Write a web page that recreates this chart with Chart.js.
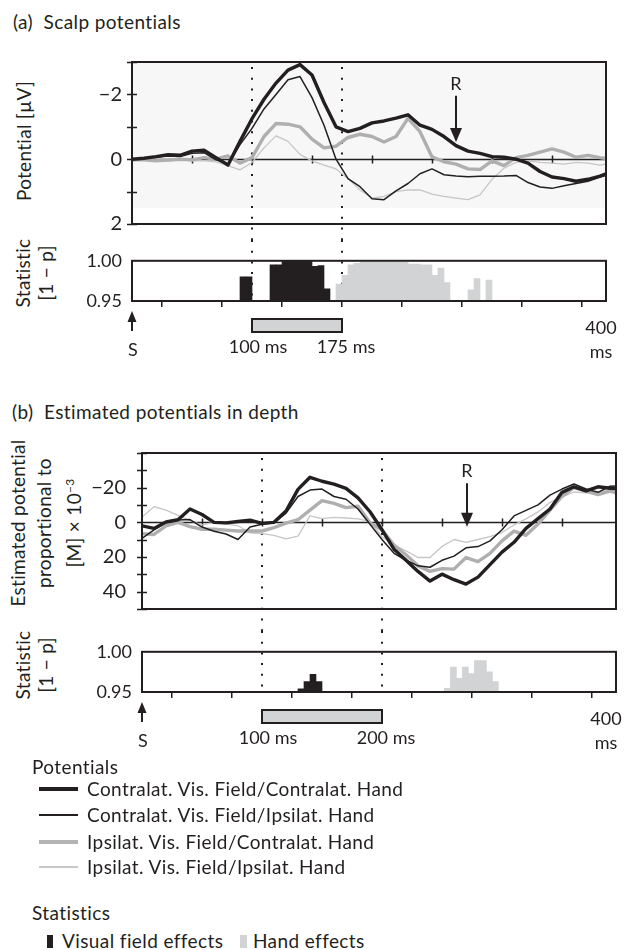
<!DOCTYPE html>
<html>
<head>
<meta charset="utf-8">
<script src="https://cdn.jsdelivr.net/npm/chart.js@4.4.0/dist/chart.umd.min.js"></script>
<style>
  body { margin: 0; width: 626px; height: 950px; position: relative; overflow: hidden;
         background: #fff; font-family: Lato, "Open Sans", sans-serif; color: #231f20; }
  canvas { position: absolute; left: 0; }
  .txt { position: absolute; font-size: 19px; line-height: 19px; letter-spacing: 0.4px; white-space: nowrap; }
  .rot { position: absolute; font-size: 19px; white-space: nowrap; text-align: center; letter-spacing: 0.3px;
         transform: translate(-50%, -50%) rotate(-90deg); }
  .sw { position: absolute; width: 39px; }
  sup { font-size: 12px; }
</style>
</head>
<body>

<div class="txt" style="left:13px;top:12px">(a)&nbsp; Scalp potentials</div>
<div class="rot" style="left:23px;top:141px">Potential [µV]</div>
<div class="rot" style="left:34px;top:273px;line-height:23px">Statistic<br>[1 − p]</div>

<div class="txt" style="left:12px;top:402px">(b)&nbsp; Estimated potentials in depth</div>
<div class="rot" style="left:46px;top:523px;line-height:26px">Estimated potential<br>proportional to<br>[M] × 10<sup>−3</sup></div>
<div class="rot" style="left:34px;top:665px;line-height:23px">Statistic<br>[1 − p]</div>

<canvas id="mainA" width="626" height="206" style="top:40px"></canvas>
<canvas id="statA" width="626" height="130" style="top:240px"></canvas>
<canvas id="mainB" width="626" height="212" style="top:425px"></canvas>
<canvas id="statB" width="626" height="130" style="top:631px"></canvas>

<div class="txt" style="left:32px;top:757px">Potentials</div>
<div class="sw" style="left:39px;top:787px;border-top:4px solid #231f20"></div>
<div class="txt" style="left:87px;top:779px">Contralat. Vis. Field/Contralat. Hand</div>
<div class="sw" style="left:39px;top:814px;border-top:2px solid #231f20"></div>
<div class="txt" style="left:87px;top:805px">Contralat. Vis. Field/Ipsilat. Hand</div>
<div class="sw" style="left:39px;top:840px;border-top:4px solid #b3b3b3"></div>
<div class="txt" style="left:87px;top:832px">Ipsilat. Vis. Field/Contralat. Hand</div>
<div class="sw" style="left:39px;top:866px;border-top:2px solid #c8c8c8"></div>
<div class="txt" style="left:87px;top:857px">Ipsilat. Vis. Field/Ipsilat. Hand</div>

<div class="txt" style="left:32px;top:903px">Statistics</div>
<div style="position:absolute;left:47px;top:935px;width:6px;height:13px;background:#231f20"></div>
<div class="txt" style="left:62px;top:931px">Visual field effects</div>
<div style="position:absolute;left:240px;top:935px;width:7px;height:13px;background:#d1d3d4"></div>
<div class="txt" style="left:253px;top:931px">Hand effects</div>

<script>
// time axis (ms after stimulus)
const timeMs = [0, 10, 20, 30, 40, 50, 60, 70, 80, 90, 100, 110, 120, 130, 140, 150, 160, 170, 180, 190,
  200, 210, 220, 230, 240, 250, 260, 270, 280, 290, 300, 310, 320, 330, 340, 350, 360, 370, 380, 390, 395]
const xTicks = [50, 100, 150, 200, 250, 300, 350]

// (a) scalp potentials, µV (negative up)
const scalpCC = [0, -0.03, -0.08, -0.14, -0.12, -0.25, -0.28, -0.05, 0.18, -0.55, -1.25, -1.85, -2.35, -2.75, -2.92, -2.6, -1.75, -1.0, -0.85, -0.95,
  -1.12, -1.18, -1.27, -1.37, -1.05, -0.92, -0.7, -0.42, -0.25, -0.18, -0.08, -0.06, 0.0, 0.12, 0.38, 0.55, 0.6, 0.68, 0.62, 0.52, 0.45]
const scalpCI = [0, -0.03, -0.06, -0.1, -0.08, -0.18, -0.2, 0.02, 0.15, -0.45, -0.95, -1.55, -2.0, -2.45, -2.55, -1.9, -1.05, 0.0, 0.6, 0.85,
  1.22, 1.25, 0.98, 0.75, 0.45, 0.3, 0.48, 0.52, 0.54, 0.53, 0.53, 0.52, 0.5, 0.72, 0.86, 0.9, 0.82, 0.75, 0.68, 0.55, 0.5]
const scalpIC = [0.02, 0.02, 0.05, 0.03, 0.0, 0.02, -0.05, 0.0, -0.1, 0.12, -0.05, -0.7, -1.1, -1.08, -1.0, -0.62, -0.35, -0.4, -0.67, -0.77,
  -0.7, -0.53, -0.7, -1.26, -0.85, -0.07, 0.08, 0.15, 0.3, 0.32, 0.05, 0.2, -0.05, -0.12, -0.22, -0.32, -0.22, -0.06, -0.12, -0.05, -0.02]
const scalpII = [0.02, 0.03, 0.03, 0.05, 0.02, 0.05, 0.05, 0.08, 0.2, 0.33, 0.1, -0.35, -0.72, -0.55, -0.15, 0.05, 0.18, 0.3, 0.6, 0.95,
  1.2, 1.15, 1.0, 0.95, 0.95, 1.08, 1.15, 1.2, 1.25, 1.1, 0.62, 0.28, 0.1, 0.05, 0.1, 0.12, 0.15, 0.1, 0.12, 0.18, 0.15]

// (b) estimated potentials in depth, x 10^-3 (negative up)
const depthCC = [2, 3.5, -0.2, -1.5, -7.7, -4.5, 0, 0.3, -0.5, -1.3, 0.6, 0, -6.5, -19, -26, -23.7, -22, -19.6, -14.1, -6.1,
  4.3, 15.5, 21.9, 28.3, 33.9, 29.9, 33.1, 35.6, 31.6, 24.4, 17.2, 11.5, 3.5, -2.1, -7.7, -17.3, -20.5, -18.1, -20.5, -19.7, -19.5]
const depthCI = [9.3, 4.3, 0, -1.3, -1.6, 2.7, 5.1, 6.7, 9.9, 2.7, 1.1, 0.3, -5.3, -14.9, -18.6, -19.2, -14.9, -13.3, -7.7, 1.1,
  9.9, 17.9, 21.9, 25.1, 25.9, 21.9, 19.5, 14.7, 14, 10.7, 4.3, -3.7, -6.9, -10.1, -15.7, -19.2, -22.1, -19.2, -17.3, -20.8, -21]
const depthIC = [6.5, 7, 2, 0, 2.5, 4, 4, 4.5, 5, 5, 5, 3, 0.5, -1.5, -7, -12.5, -10.9, -8.5, -9.3, 0.3,
  4.3, 13.1, 18.7, 25.1, 28.3, 26.7, 27, 20.3, 22.7, 17.9, 10.7, 5.1, 7.5, 1, -7, -15, -20, -18, -16, -18, -17]
const depthII = [-3, -9, -7, -4, -1, 1.5, 0, 1, 2, 6, 6.5, 7.5, 9.5, 8, -3.7, -2.1, -2.9, -2.5, -2, -0.5,
  8.3, 13.1, 16.5, 20.3, 20.3, 13.9, 9.9, 11.5, 9.9, 8.3, 5.9, 1.5, -2, -6, -11.5, -14.5, -17.5, -17, -17.5, -18.5, -19]

// statistics, 1 - p, in 5 ms bins (bin start, ms)
const statAVisT = [90, 95, 115, 120, 125, 130, 135, 140, 145, 150, 155, 160]
const statAVisP = [0.980, 0.980, 0.995, 0.995, 1.0, 1.0, 1.0, 1.0, 1.0, 0.993, 0.994, 0.965]
const statAHandT = [170, 175, 180, 185, 190, 195, 200, 205, 210, 215, 220, 225, 230, 235, 240, 245, 250, 255, 260, 280, 285, 295]
const statAHandP = [0.971, 0.982, 0.995, 0.997, 0.998, 0.998, 0.998, 0.998, 0.998, 0.998, 0.998, 0.998, 0.996, 0.996, 0.995, 0.995, 0.982, 0.991, 0.973, 0.964, 0.978, 0.976]
const statBVisT = [130, 135, 140, 145]
const statBVisP = [0.954, 0.963, 0.972, 0.963]
const statBHandT = [252, 257, 262, 267, 272, 277, 282, 287, 292]
const statBHandP = [0.9545, 0.981, 0.967, 0.981, 0.973, 0.989, 0.989, 0.975, 0.963]

const ink = '#231f20'
const handGray = '#d1d3d4'

Chart.defaults.font.family = 'Lato, "Open Sans", sans-serif'
Chart.defaults.font.size = 18
Chart.defaults.color = ink

function pts(xs, ys, shift) {
  return xs.map((t, i) => ({ x: t + shift, y: ys[i] }))
}

function minusLabel(v) {
  return v < 0 ? '\u2212' + Math.abs(v) : String(v)
}

// vertical arrow from yTail to yTip (works both up and down)
function arrow(ctx, x, yTail, yTip, headLen, headW) {
  const dir = yTip > yTail ? 1 : -1
  const yBase = yTip - dir * headLen
  ctx.beginPath()
  ctx.moveTo(x, yTail)
  ctx.lineTo(x, yBase + dir)
  ctx.stroke()
  ctx.beginPath()
  ctx.moveTo(x, yTip)
  ctx.lineTo(x - headW / 2, yBase)
  ctx.lineTo(x + headW / 2, yBase)
  ctx.closePath()
  ctx.fill()
}

// boxes, zero line, dotted window lines, arrows, labels
const decor = {
  id: 'decor',
  beforeDatasetsDraw(chart, args, o) {
    const { ctx, chartArea: a, scales: { x, y } } = chart
    ctx.save()
    if (o.shadeTo !== undefined) {
      ctx.fillStyle = '#f7f7f7'
      ctx.fillRect(a.left, a.top, a.right - a.left, y.getPixelForValue(o.shadeTo) - a.top)
    }
    ctx.strokeStyle = ink
    ctx.lineWidth = 2
    ctx.setLineDash([2, 8.7])
    for (const t of o.window) {
      const px = Math.round(x.getPixelForValue(t))
      ctx.beginPath()
      ctx.moveTo(px, o.stat ? 0 : a.top + 5)
      ctx.lineTo(px, o.stat ? a.bottom : chart.height)
      ctx.stroke()
    }
    ctx.setLineDash([])
    if (!o.stat) {
      const py = Math.round(y.getPixelForValue(0)) + 0.5
      ctx.lineWidth = 1.5
      ctx.beginPath()
      ctx.moveTo(a.left, py)
      ctx.lineTo(a.right, py)
      for (const t of xTicks) {
        const px = Math.round(x.getPixelForValue(t)) + 0.5
        ctx.moveTo(px, py - 4)
        ctx.lineTo(px, py + 4)
      }
      // y tick marks crossing the left border
      for (const tk of y.ticks) {
        const ty = Math.round(y.getPixelForValue(tk.value)) + 0.5
        ctx.moveTo(a.left - 5, ty)
        ctx.lineTo(a.left + 5, ty)
      }
      ctx.stroke()
    }
    ctx.restore()
  },
  afterDatasetsDraw(chart, args, o) {
    const { ctx, chartArea: a, scales: { x, y } } = chart
    ctx.save()
    ctx.strokeStyle = ink
    ctx.fillStyle = ink
    ctx.lineWidth = 2
    ctx.strokeRect(a.left, a.top, a.right - a.left, a.bottom - a.top)
    ctx.font = '18px Lato, "Open Sans", sans-serif'
    ctx.textAlign = 'center'
    ctx.textBaseline = 'middle'
    if (!o.stat) {
      const rx = Math.round(x.getPixelForValue(o.rTime))
      ctx.fillText('R', rx, y.getPixelForValue(o.rLabel))
      arrow(ctx, rx, y.getPixelForValue(o.rTail), y.getPixelForValue(o.rTip), 14, 12)
    } else {
      const b = a.bottom
      const x0 = x.getPixelForValue(o.window[0])
      const x1 = x.getPixelForValue(o.window[1])
      ctx.fillStyle = handGray
      ctx.fillRect(x0, b + 18, x1 - x0, 13)
      ctx.strokeRect(x0, b + 18, x1 - x0, 13)
      ctx.fillStyle = ink
      ctx.fillText(o.window[0] + ' ms', x0 + 6, b + 46)
      ctx.fillText(o.window[1] + ' ms', x1 + 4, b + 46)
      const sx = Math.round(x.getPixelForValue(0))
      arrow(ctx, sx, b + 30, b + 10, 11, 9)
      ctx.fillText('S', sx + 1, b + 49)
      ctx.fillText('400', a.right - o.endShift, b + 27)
      ctx.fillText('ms', a.right - o.endShift, b + 51)
    }
    ctx.restore()
  }
}

function lineSet(data, color, width) {
  return {
    data: data, borderColor: color, borderWidth: width, pointRadius: 0, tension: 0,
    borderJoinStyle: 'round', borderCapStyle: 'round', fill: false
  }
}

function mainChart(id, series, yMin, yMax, yStep, yLabels, axisW, padR, padT, labelPad, decorOpts) {
  return new Chart(document.getElementById(id), {
    type: 'line',
    data: {
      datasets: [
        lineSet(pts(timeMs, series[0], 0), ink, 3.4),
        lineSet(pts(timeMs, series[1], 0), ink, 1.5),
        lineSet(pts(timeMs, series[2], 0), '#afafaf', 3.4),
        lineSet(pts(timeMs, series[3], 0), '#c6c6c6', 1.3)
      ]
    },
    options: {
      responsive: false,
      animation: false,
      events: [],
      devicePixelRatio: 1,
      layout: { padding: { top: padT, right: padR, bottom: 17, left: 0 } },
      scales: {
        x: { type: 'linear', min: 0, max: 395, display: false },
        y: {
          type: 'linear', reverse: true, min: yMin, max: yMax,
          afterFit: function (scale) { scale.width = axisW },
          border: { display: false },
          grid: { drawOnChartArea: false, drawTicks: false },
          ticks: {
            stepSize: yStep, padding: labelPad, autoSkip: false, font: { size: 20 }, color: ink,
            callback: function (v) { return yLabels.includes(Math.round(v)) ? minusLabel(Math.round(v)) : '' }
          }
        }
      },
      plugins: { legend: { display: false }, tooltip: { enabled: false }, decor: decorOpts }
    },
    plugins: [decor]
  })
}

function statChart(id, visT, visP, handT, handP, axisW, padR, windowMs, endShift) {
  const barSet = (data, color) => ({
    data: data, backgroundColor: color, borderWidth: 0, grouped: false,
    barPercentage: 1.0, categoryPercentage: 1.0
  })
  return new Chart(document.getElementById(id), {
    type: 'bar',
    data: {
      datasets: [
        barSet(pts(visT, visP, 2.5), ink),
        barSet(pts(handT, handP, 2.5), handGray)
      ]
    },
    options: {
      responsive: false,
      animation: false,
      events: [],
      devicePixelRatio: 1,
      layout: { padding: { top: 6, right: padR, bottom: 63, left: 0 } },
      scales: {
        x: {
          type: 'linear', min: 0, max: 395, offset: false,
          afterFit: function (scale) { scale.height = 6 },
          border: { display: false },
          grid: { drawOnChartArea: false, tickLength: 6, color: ink, lineWidth: 1.5 },
          ticks: { display: false, stepSize: 50, includeBounds: false }
        },
        y: {
          type: 'linear', min: 0.95, max: 1.0,
          afterFit: function (scale) { scale.width = axisW },
          border: { display: false },
          grid: { drawOnChartArea: false, drawTicks: false },
          ticks: { stepSize: 0.05, padding: 10, autoSkip: false, font: { size: 18 }, color: ink,
            callback: function (v) { return v.toFixed(2) } }
        }
      },
      plugins: { legend: { display: false }, tooltip: { enabled: false },
        decor: { stat: true, window: windowMs, endShift: endShift } }
    },
    plugins: [decor]
  })
}

mainChart('mainA', [scalpCC, scalpCI, scalpIC, scalpII], -3, 2, 1, [-2, 0, 2], 132, 20, 7, 10,
  { window: [100, 175], shadeTo: 1.5, rTime: 270, rLabel: -2.31, rTail: -1.96, rTip: -0.53 })
statChart('statA', statAVisT, statAVisP, statAHandT, statAHandP, 132, 20, [100, 175], 5)

mainChart('mainB', [depthCC, depthCI, depthIC, depthII], -40, 50, 10, [-20, 0, 20, 40], 142, 10, 8, 16,
  { window: [100, 200], rTime: 271, rLabel: -29.4, rTail: -22.6, rTip: 2.5 })
statChart('statB', statBVisT, statBVisP, statBHandT, statBHandP, 142, 10, [100, 200], 10)
</script>
</body>
</html>
